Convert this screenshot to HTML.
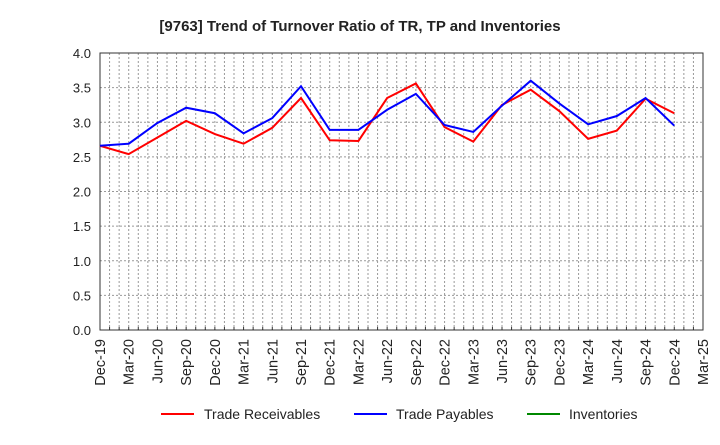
<!DOCTYPE html>
<html><head><meta charset="utf-8"><style>
body{margin:0;background:#fff;font-family:"Liberation Sans",sans-serif}
svg text{font-family:"Liberation Sans",sans-serif}
</style></head><body>
<svg id="c" width="720" height="440">
<text x="360" y="31" text-anchor="middle" font-size="15" font-weight="bold" fill="#222">[9763]  Trend of Turnover Ratio of TR, TP and Inventories</text>
<g id="grid"></g><g id="axes"></g><g id="series"></g>
<g>
<line x1="161" y1="414" x2="194" y2="414" stroke="#f00" stroke-width="2"/>
<text x="204" y="419" font-size="14" fill="#222">Trade Receivables</text>
<line x1="354" y1="414" x2="387" y2="414" stroke="#00f" stroke-width="2"/>
<text x="396" y="419" font-size="14" fill="#222">Trade Payables</text>
<line x1="527" y1="414" x2="560" y2="414" stroke="#080" stroke-width="2"/>
<text x="569" y="419" font-size="14" fill="#222">Inventories</text>
</g>
</svg>
<script>
const categories=["Dec-19","Mar-20","Jun-20","Sep-20","Dec-20","Mar-21","Jun-21","Sep-21","Dec-21","Mar-22","Jun-22","Sep-22","Dec-22","Mar-23","Jun-23","Sep-23","Dec-23","Mar-24","Jun-24","Sep-24","Dec-24","Mar-25"];
const tradeReceivables=[2.66,2.54,2.78,3.02,2.83,2.69,2.92,3.35,2.74,2.73,3.35,3.56,2.93,2.72,3.25,3.47,3.16,2.76,2.88,3.34,3.13];
const tradePayables=[2.66,2.69,2.99,3.21,3.13,2.84,3.06,3.52,2.89,2.89,3.18,3.41,2.96,2.86,3.24,3.60,3.27,2.97,3.09,3.35,2.95];
const inventories=[];
const yTicks=[0,0.5,1,1.5,2,2.5,3,3.5,4];
const L=100,R=703,T=53,B=330,NS="http://www.w3.org/2000/svg";
const xs=i=>L+i*(R-L)/(categories.length-1);
const ys=v=>B-v/4*(B-T);
function mk(p,t,a){const e=document.createElementNS(NS,t);for(const k in a)e.setAttribute(k,a[k]);p.appendChild(e);return e;}
const g=document.getElementById('grid'),ax=document.getElementById('axes'),s=document.getElementById('series');
for(let m=1;m<(categories.length-1)*3;m++){
 const x=xs(m/3);
 const gl=mk(g,'line',{x1:x,x2:x,y1:T,y2:B,stroke:'#999','stroke-dasharray':'2,2'});
 
 
 const tk=mk(ax,'line',{x1:x,x2:x,y1:B,y2:B-3,stroke:'#333'});
 
 
}
for(let i=0;i<categories.length;i++){
 const x=xs(i);
 const tx=mk(ax,'text',{x:0,y:0,'font-size':14.5,fill:'#222','text-anchor':'end',transform:`translate(${x+5},${B+9}) rotate(-90)`});
 tx.textContent=categories[i];
 
 
}
yTicks.forEach(v=>{
 const y=ys(v);
 const gl=mk(g,'line',{x1:L,x2:R,y1:y,y2:y,stroke:'#999','stroke-dasharray':'2,2'});
 
 
 const t=mk(ax,'text',{x:L-9,y:y+5,'font-size':13,fill:'#222','text-anchor':'end'});
 t.textContent=v.toFixed(1);
 
 
});
const fr=mk(ax,'rect',{x:L,y:T,width:R-L,height:B-T,fill:'none',stroke:'#333','stroke-width':1});


function line(d,c,n){if(!d.length)return;const p=mk(s,'polyline',{points:d.map((v,i)=>xs(i)+','+ys(v)).join(' '),fill:'none',stroke:c,'stroke-width':2});
 
 }
line(tradeReceivables,'#f00','trade-receivables-line');
line(tradePayables,'#00f','trade-payables-line');
line(inventories,'#080','inventories-line');
</script>
</body></html>
